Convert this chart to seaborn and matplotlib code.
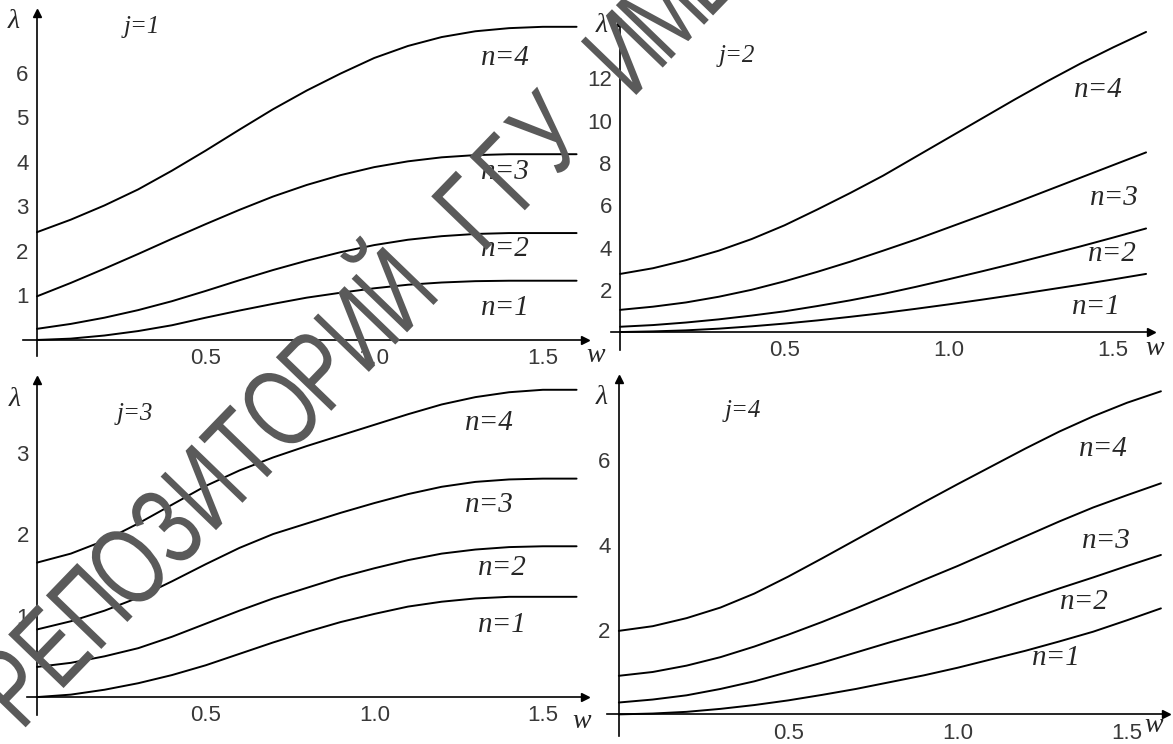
import numpy as np
import pandas as pd
import matplotlib
matplotlib.use("Agg")
import matplotlib.pyplot as plt
import seaborn as sns
from matplotlib.ticker import MultipleLocator
from matplotlib.textpath import TextPath
from matplotlib.patches import PathPatch
from matplotlib.font_manager import FontProperties
from matplotlib.transforms import Affine2D, IdentityTransform

# %% data
W = [0.0, 0.1, 0.2, 0.3, 0.4, 0.5, 0.6, 0.7, 0.8, 0.9, 1.0, 1.1, 1.2, 1.3, 1.4, 1.5, 1.6]

j1_n1 = [0.00, 0.03, 0.10, 0.20, 0.33, 0.50, 0.66, 0.81, 0.95, 1.06, 1.16, 1.24, 1.29, 1.32, 1.33, 1.33, 1.33]
j1_n2 = [0.25, 0.36, 0.50, 0.67, 0.87, 1.10, 1.34, 1.57, 1.78, 1.97, 2.13, 2.25, 2.33, 2.38, 2.40, 2.40, 2.40]
j1_n3 = [0.98, 1.28, 1.60, 1.93, 2.27, 2.60, 2.92, 3.22, 3.48, 3.70, 3.88, 4.01, 4.10, 4.15, 4.17, 4.17, 4.17]
j1_n4 = [2.42, 2.70, 3.02, 3.38, 3.80, 4.25, 4.72, 5.18, 5.60, 5.98, 6.33, 6.60, 6.80, 6.93, 7.00, 7.03, 7.03]

j2_n1 = [0.00, 0.03, 0.08, 0.16, 0.27, 0.40, 0.55, 0.72, 0.90, 1.10, 1.31, 1.53, 1.76, 2.00, 2.24, 2.49, 2.75]
j2_n2 = [0.25, 0.33, 0.45, 0.60, 0.78, 0.98, 1.23, 1.50, 1.80, 2.14, 2.50, 2.87, 3.25, 3.65, 4.05, 4.47, 4.90]
j2_n3 = [1.05, 1.20, 1.40, 1.67, 2.00, 2.40, 2.85, 3.33, 3.85, 4.38, 4.95, 5.52, 6.10, 6.70, 7.30, 7.90, 8.50]
j2_n4 = [2.75, 3.02, 3.40, 3.85, 4.40, 5.05, 5.80, 6.58, 7.40, 8.30, 9.20, 10.10, 11.00, 11.87, 12.70, 13.47, 14.20]

j3_n1 = [0.00, 0.03, 0.09, 0.17, 0.27, 0.39, 0.53, 0.67, 0.80, 0.92, 1.02, 1.11, 1.17, 1.21, 1.23, 1.23, 1.23]
j3_n2 = [0.37, 0.42, 0.50, 0.60, 0.74, 0.90, 1.06, 1.21, 1.34, 1.47, 1.58, 1.68, 1.76, 1.81, 1.84, 1.85, 1.85]
j3_n3 = [0.83, 0.93, 1.06, 1.22, 1.42, 1.63, 1.83, 2.00, 2.13, 2.26, 2.38, 2.49, 2.58, 2.64, 2.67, 2.68, 2.68]
j3_n4 = [1.65, 1.76, 1.92, 2.13, 2.36, 2.59, 2.78, 2.94, 3.08, 3.21, 3.34, 3.47, 3.59, 3.68, 3.74, 3.77, 3.77]

j4_n1 = [0.00, 0.02, 0.06, 0.13, 0.22, 0.33, 0.46, 0.60, 0.76, 0.92, 1.10, 1.30, 1.50, 1.72, 1.95, 2.22, 2.50]
j4_n2 = [0.28, 0.35, 0.45, 0.60, 0.78, 1.00, 1.22, 1.46, 1.70, 1.93, 2.16, 2.42, 2.70, 2.97, 3.23, 3.50, 3.76]
j4_n3 = [0.91, 1.00, 1.15, 1.35, 1.60, 1.88, 2.18, 2.50, 2.83, 3.17, 3.50, 3.85, 4.20, 4.55, 4.88, 5.17, 5.45]
j4_n4 = [1.97, 2.08, 2.27, 2.52, 2.85, 3.25, 3.68, 4.12, 4.56, 5.00, 5.43, 5.85, 6.27, 6.67, 7.03, 7.35, 7.62]

x_ticks = [0.5, 1.0, 1.5]
x_ticklabels = ["0.5", "1.0", "1.5"]
y_ticks_j1 = [1, 2, 3, 4, 5, 6]
y_ticks_j2 = [2, 4, 6, 8, 10, 12]
y_ticks_j3 = [1, 2, 3]
y_ticks_j4 = [2, 4, 6]
curve_names = ["n=1", "n=2", "n=3", "n=4"]
panel_names = ["j=1", "j=2", "j=3", "j=4"]
watermark = "РЕПОЗИТОРИЙ ГГУ ИМЕНИ Ф. СКОРИНЫ"


def main():
    sns.set_style("white")
    plt.rcParams["font.family"] = ["Liberation Sans", "DejaVu Sans"]

    fig = plt.figure(figsize=(11.73, 7.44), dpi=100)
    FW, FH = 1173, 744

    # %% layout: pixel boxes (left, right, top, bottom), limits, ticks, label spots
    panels = [
        dict(box=(23.5, 585, 13, 356), xlim=(-0.04, 1.625), ylim=(-0.36, 7.34),
             yt=y_ticks_j1, ymin=0.2, curves=[j1_n1, j1_n2, j1_n3, j1_n4],
             j_at=(0.31, 7.03), n_at=[(1.39, 0.72), (1.39, 2.05), (1.39, 3.76), (1.39, 6.33)],
             lam_at=(-0.07, 7.14), w_at=(1.655, -0.36)),
        dict(box=(611, 1151, 22, 350), xlim=(-0.028, 1.615), ylim=(-0.85, 14.67),
             yt=y_ticks_j2, ymin=0.5, curves=[j2_n1, j2_n2, j2_n3, j2_n4],
             j_at=(0.355, 13.07), n_at=[(1.45, 1.18), (1.497, 3.71), (1.503, 6.35), (1.455, 11.47)],
             lam_at=(-0.055, 14.5), w_at=(1.625, -0.8)),
        dict(box=(27, 585, 380, 715), xlim=(-0.03, 1.625), ylim=(-0.22, 3.89),
             yt=y_ticks_j3, ymin=0.2, curves=[j3_n1, j3_n2, j3_n3, j3_n4],
             j_at=(0.29, 3.47), n_at=[(1.38, 0.89), (1.38, 1.58), (1.34, 2.36), (1.34, 3.36)],
             lam_at=(-0.068, 3.65), w_at=(1.615, -0.3)),
        dict(box=(607, 1166, 379, 736), xlim=(-0.035, 1.615), ylim=(-0.51, 7.91),
             yt=y_ticks_j4, ymin=0.5, curves=[j4_n1, j4_n2, j4_n3, j4_n4],
             j_at=(0.367, 7.16), n_at=[(1.29, 1.33), (1.375, 2.66), (1.44, 4.10), (1.43, 6.27)],
             lam_at=(-0.05, 7.48), w_at=(1.578, -0.27)),
    ]

    serif = ["Liberation Serif", "DejaVu Serif"]

    for k, p in enumerate(panels):
        l, r, t, b = p["box"]
        ax = fig.add_axes([l / FW, 1 - b / FH, (r - l) / FW, (b - t) / FH])

        df = pd.concat([pd.DataFrame({"w": W, "lam": c, "n": name})
                        for c, name in zip(p["curves"], curve_names)])
        sns.lineplot(data=df, x="w", y="lam", units="n", estimator=None,
                     color="black", linewidth=1.4, ax=ax, legend=False)

        ax.set_xlim(*p["xlim"])
        ax.set_ylim(*p["ylim"])
        ax.set_xlabel("")
        ax.set_ylabel("")

        for s in ["top", "right"]:
            ax.spines[s].set_visible(False)
        for s in ["left", "bottom"]:
            ax.spines[s].set_position(("data", 0))
            ax.spines[s].set_linewidth(1.2)
            ax.spines[s].set_color("black")

        ax.set_xticks(x_ticks)
        ax.set_xticklabels(x_ticklabels)
        ax.xaxis.set_minor_locator(MultipleLocator(0.1))
        ax.set_yticks(p["yt"])
        ax.set_yticklabels([str(v) for v in p["yt"]])
        ax.yaxis.set_minor_locator(MultipleLocator(p["ymin"]))
        ax.tick_params(which="major", direction="in", length=6, width=0.9,
                       color="black", labelcolor="#383838", labelsize=16, pad=6)
        ax.tick_params(which="minor", direction="in", length=3.5, width=0.7, color="#444444")

        # arrow heads on the axes
        ax.plot([1], [0], marker=">", ms=6, color="black",
                transform=ax.get_yaxis_transform(), clip_on=False)
        ax.plot([0], [1], marker="^", ms=6, color="black",
                transform=ax.get_xaxis_transform(), clip_on=False)

        ax.text(*p["lam_at"], "λ", family=serif, style="italic", fontsize=20,
                ha="center", va="center", clip_on=False)
        ax.text(*p["w_at"], "w", family=serif, style="italic", fontsize=20,
                ha="center", va="center", clip_on=False)
        ax.text(*p["j_at"], panel_names[k], family=serif, style="italic", fontsize=18,
                ha="center", va="center")
        for (x, y), name in zip(p["n_at"], curve_names):
            ax.text(x, y, name, family=serif, style="italic", fontsize=21,
                    ha="center", va="center")

    # %% diagonal watermark
    fp = FontProperties(family="Liberation Sans")
    size = 112
    ang = 46
    step = 55
    x0, y0 = 623, 51  # centre of the "И" of ИМЕНИ, in image pixels
    i0 = watermark.index("ИМЕ")
    ca, sa = np.cos(np.radians(ang)), np.sin(np.radians(ang))
    for i, ch in enumerate(watermark):
        if ch == " ":
            continue
        tp = TextPath((0, 0), ch, size=size, prop=fp)
        ext = tp.get_extents()
        cx = (ext.x0 + ext.x1) / 2
        px = x0 + (i - i0) * step * ca
        py = FH - (y0 - (i - i0) * step * sa)
        tr = (Affine2D().translate(-cx, -0.716 * size / 2).scale(0.72, 1)
              .rotate_deg(ang).translate(px, py))
        patch = PathPatch(tr.transform_path(tp), facecolor="#5a5a5a",
                          edgecolor="none", transform=IdentityTransform(), zorder=5)
        fig.add_artist(patch)

    fig.savefig("out.png", dpi=100, facecolor="white")


if __name__ == "__main__":
    main()
